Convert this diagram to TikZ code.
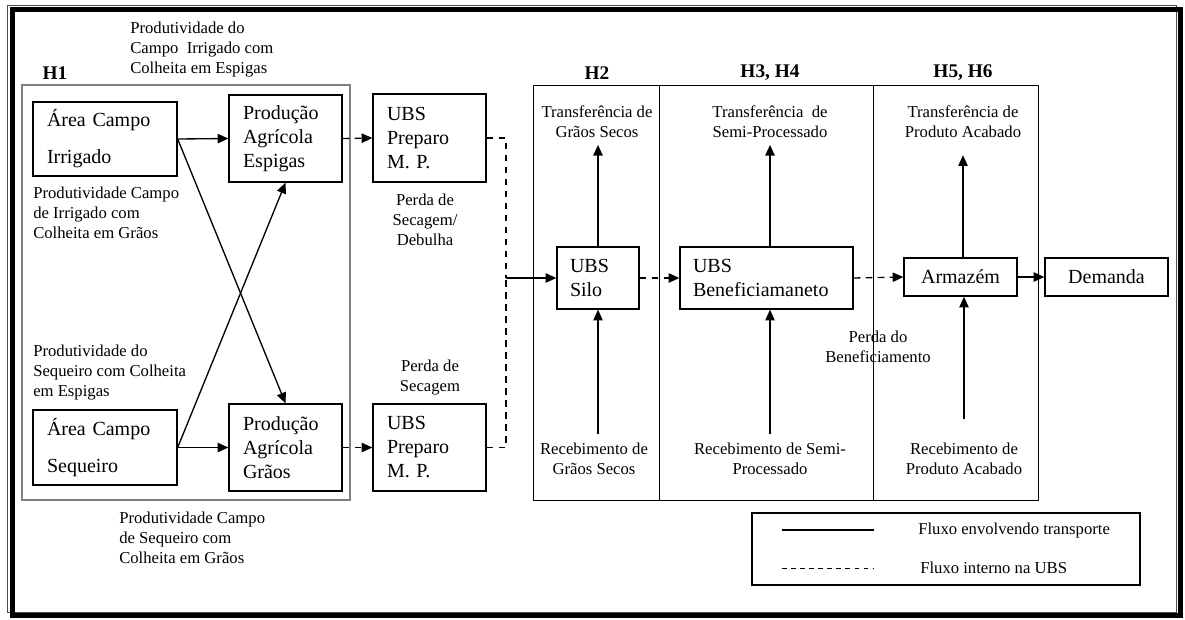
\documentclass[tikz,border=0pt]{standalone}
\usepackage{fontspec}
\setmainfont{Liberation Serif}
\usetikzlibrary{arrows.meta}

\begin{document}
\begin{tikzpicture}[x=0.75pt,y=-0.75pt,
            caixa/.style={draw, rectangle, line width=1pt, align=left, inner xsep=10.5pt, font=\fontsize{15}{18}\selectfont},
            rotulo/.style={inner sep=0pt, align=center, font=\fontsize{12.5}{15}\selectfont},
            fase/.style={inner sep=0pt, font=\fontsize{14.5}{17}\selectfont\bfseries},
            linha/.style={line width=1pt},
            seta/.style={linha, -{Triangle[length=8pt,width=7pt]}},
            tracejado/.style={linha, dash pattern=on 5pt off 4pt}]
            \useasboundingbox (0,0) rectangle (1185,619);
            % Moldura e fases H1 a H6
            \draw[line width=0.75pt, gray!60!black] (7.5,5) rectangle (1176,612);
            \draw[line width=3.75pt] (12.5,9.5) rectangle (1180.5,615.5);
            \draw[gray, line width=0.8pt] (22,85) rectangle (350,500);
            \draw[line width=0.6pt] (533,85) rectangle (659,500);
            \draw[line width=0.6pt] (659,85) rectangle (873,500);
            \draw[line width=0.6pt] (873,85) rectangle (1038,500);
            \node[fase] (h1) at (55,73) {H1};
            \node[fase] (h2) at (597,73) {H2};
            \node[fase] (h34) at (770,73) {H3, H4};
            \node[fase] (h56) at (963,73) {H5, H6};

            % Campos, producao e UBS de preparo
            \node[caixa, text width=87pt, minimum height=55.5pt] (irrigado) at (105,139) {Área Campo\\[9.75pt]Irrigado};
            \node[caixa, text width=63.75pt, minimum height=65.25pt] (espigas) at (285.5,138.5) {Produção\\Agrícola\\Espigas};
            \node[caixa, text width=63.75pt, minimum height=66pt] (prepA) at (429.5,138) {UBS\\Preparo\\M. P.};
            \node[caixa, text width=87pt, minimum height=56.25pt] (sequeiro) at (105,447.5) {Área Campo\\[9.75pt]Sequeiro};
            \node[caixa, text width=63.75pt, minimum height=65.25pt] (graos) at (285.5,447.5) {Produção\\Agrícola\\Grãos};
            \node[caixa, text width=63.75pt, minimum height=65.25pt] (prepB) at (429.5,447.5) {UBS\\Preparo\\M. P.};
            \node[caixa, inner xsep=9.75pt, text width=42pt, minimum height=46.5pt] (silo) at (598,278) {UBS\\Silo};
            \node[caixa, inner xsep=9.75pt, text width=110.25pt, minimum height=46.5pt] (benef) at (766.5,278) {UBS\\Beneficiamaneto};
            \node[caixa, align=center, minimum width=84.75pt, minimum height=28.5pt] (armazem) at (960.5,277) {Armazém};
            \node[caixa, align=center, minimum width=92.25pt, minimum height=28.5pt] (demanda) at (1106.5,277) {Demanda};
            \coordinate (juncao) at (506,278);

            % Textos
            \node[rotulo, anchor=west, align=left] (prodIE) at (130,50) {Produtividade do\\Campo\ \ Irrigado com\\Colheita em Espigas};
            \node[rotulo, anchor=west, align=left] (prodIG) at (33,213) {Produtividade Campo\\de Irrigado com\\Colheita em Grãos};
            \node[rotulo, anchor=west, align=left] (prodSE) at (33,373) {Produtividade do\\Sequeiro com Colheita\\em Espigas};
            \node[rotulo, anchor=west, align=left] (prodSG) at (119,538) {Produtividade Campo\\de Sequeiro com\\Colheita em Grãos};
            \node[rotulo] (perdaA) at (425,220) {Perda de\\Secagem/\\Debulha};
            \node[rotulo] (perdaB) at (430,378) {Perda de\\Secagem};
            \node[rotulo] (perdaBenef) at (878,347) {Perda do\\Beneficiamento};
            \node[rotulo] (tgs) at (597,122) {Transferência de\\Grãos Secos};
            \node[rotulo] (tsp) at (770,122) {Transferência\ \ de\\Semi-Processado};
            \node[rotulo] (tpa) at (963,122) {Transferência de\\Produto Acabado};
            \node[rotulo] (rgs) at (594,459) {Recebimento de\\Grãos Secos};
            \node[rotulo] (rsp) at (770,459) {Recebimento de Semi-\\Processado};
            \node[rotulo] (rpa) at (964,459) {Recebimento de\\Produto Acabado};

            % Fluxos
            \draw[seta] (irrigado.east) -- (espigas.west);
            \draw[seta] (irrigado.east) -- (graos.north);
            \draw[seta] (sequeiro.east) -- (graos.west);
            \draw[seta] (sequeiro.east) -- (espigas.south);
            \draw[tracejado, -{Triangle[length=8pt,width=7pt]}] (espigas.east) -- (prepA.west);
            \draw[tracejado, -{Triangle[length=8pt,width=7pt]}] (graos.east) -- (prepB.west);
            \draw[tracejado] (prepA.east) -| (juncao);
            \draw[tracejado] (prepB.east) -| (juncao);
            \draw[seta] (juncao) -- (silo.west);
            \draw[tracejado, -{Triangle[length=8pt,width=7pt]}] (silo.east) -- (benef.west);
            \draw[tracejado, -{Triangle[length=8pt,width=7pt]}] (benef.east) -- (armazem.west);
            \draw[seta] (armazem) -- (demanda);
            \draw[seta, shorten >=5pt] (silo.north) -- (silo.north |- tgs.south);
            \draw[seta, shorten >=5pt] (benef.north -| tsp) -- (tsp.south);
            \draw[seta, shorten >=12.75pt] (armazem.north -| tpa) -- (tpa.south);
            \draw[seta, shorten <=7pt] (rgs.north -| silo) -- (silo.south);
            \draw[seta, shorten <=7pt] (rsp.north) -- (rsp.north |- benef.south);
            \draw[seta, shorten <=18pt] (rpa.north) -- (rpa.north |- armazem.south);

            % Legenda
            \draw[line width=0.8pt] (752,513) rectangle (1140,585);
            \coordinate (solidoA) at (782,530);
            \coordinate (solidoB) at (874,530);
            \coordinate (tracA) at (782,568);
            \coordinate (tracB) at (874,568);
            \draw[linha] (solidoA) -- (solidoB);
            \draw[line width=0.6pt, dash pattern=on 3.4pt off 3.4pt] (tracA) -- (tracB);
            \node[rotulo, anchor=west] (legenda1) at (918,530) {Fluxo envolvendo transporte};
            \node[rotulo, anchor=west] (legenda2) at (920,568) {Fluxo interno na UBS};
        \end{tikzpicture}
\end{document}
